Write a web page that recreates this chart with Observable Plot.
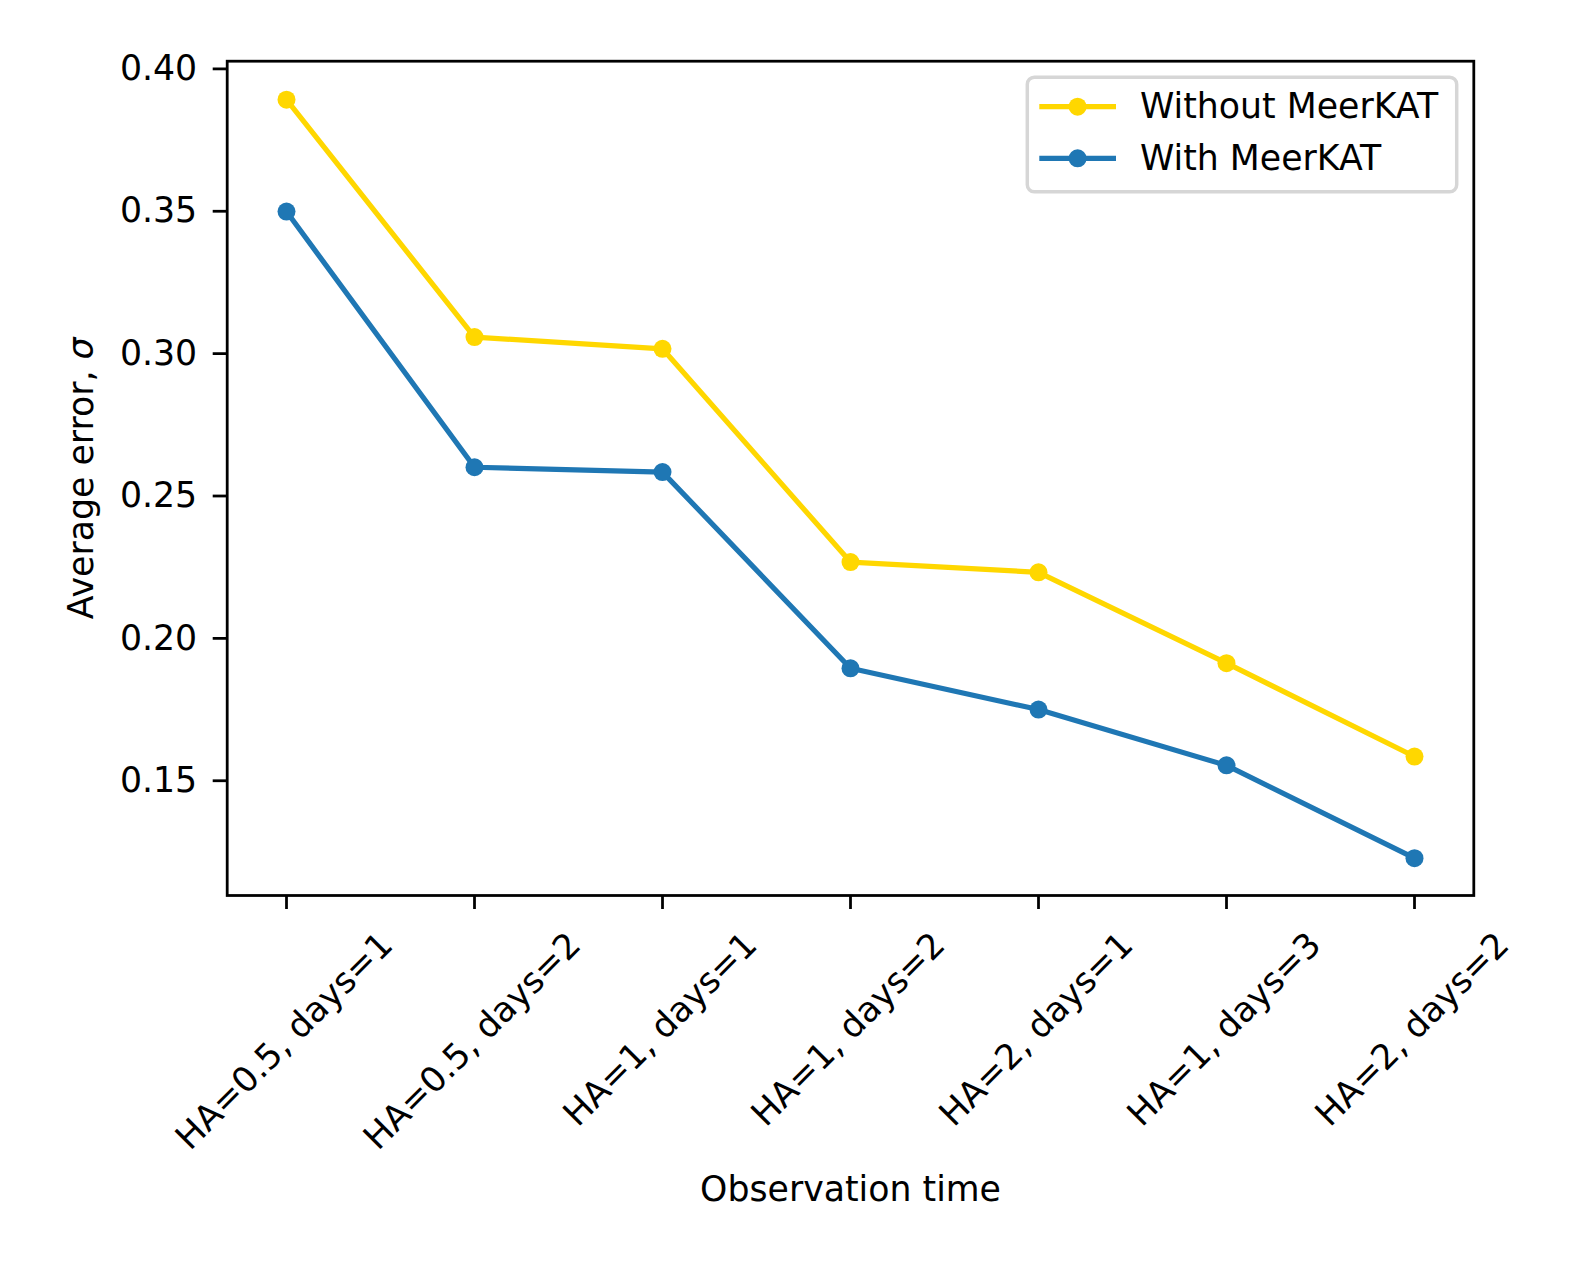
<!DOCTYPE html>
<html><head><meta charset="utf-8">
<script src="https://cdn.jsdelivr.net/npm/d3@7"></script>
<script src="https://cdn.jsdelivr.net/npm/@observablehq/plot@0.6"></script>
<style>html,body{margin:0;padding:0;background:#fff;} svg{display:block}</style>
</head><body><div id="chart"></div>
<script>
const categories = ["HA=0.5, days=1","HA=0.5, days=2","HA=1, days=1","HA=1, days=2","HA=2, days=1","HA=1, days=3","HA=2, days=2"];
const withoutMeerKAT = [0.3892, 0.3058, 0.3017, 0.2268, 0.2232, 0.1913, 0.1585];
const withMeerKAT    = [0.3499, 0.2601, 0.2584, 0.1895, 0.1750, 0.1554, 0.1228];
const seriesNames = ["Without MeerKAT", "With MeerKAT"];
const seriesColors = ["#FFD700", "#1f77b4"];
const yTicks = [0.15, 0.20, 0.25, 0.30, 0.35, 0.40];
const yDomain = [0.1097, 0.4027];
const xLabel = "Observation time";
const yLabel = "Average error, σ";

const FS = 34.72, FONT = "DejaVu Sans";
const W = 1578, H = 1262;
const mL = 226.7, mT = 60.7, mR = 104.7, mB = 367;
const seriesValues = [withoutMeerKAT, withMeerKAT];
const rows = seriesNames.flatMap((s, si) => categories.map((c, i) => ({series: s, cat: c, value: seriesValues[si][i]})));

const ctx = document.createElement("canvas").getContext("2d");
ctx.font = `${FS}px "${FONT}"`;
const tickLabelMarks = categories.map(c => {
  const w = ctx.measureText(c).width;
  return Plot.text([c], {x: d => d, text: d => d, frameAnchor: "bottom", dx: -2, dy: 43.5 + w / (2 * Math.SQRT2),
    rotate: -45, textAnchor: "middle", lineAnchor: "middle", fontSize: FS, fill: "black"});
});

const seriesMarks = seriesNames.flatMap((s, si) => {
  const data = rows.filter(r => r.series === s);
  return [
    Plot.line(data, {x: "cat", y: "value", stroke: seriesColors[si], strokeWidth: 5.2, strokeLinejoin: "round", strokeLinecap: "butt"}),
    Plot.dot(data, {x: "cat", y: "value", r: 9, fill: seriesColors[si], stroke: "none"})
  ];
});

const chart = Plot.plot({
  width: W, height: H,
  marginLeft: mL, marginTop: mT, marginRight: mR, marginBottom: mB,
  style: {fontFamily: FONT, fontSize: FS + "px", color: "black", background: "white"},
  x: {type: "point", domain: categories, padding: 0.3, align: 0.5},
  y: {domain: yDomain},
  marks: [
    ...seriesMarks,
    Plot.frame({stroke: "black", strokeWidth: 2.78}),
    Plot.axisX({tickSize: 14, strokeWidth: 2.78, tickFormat: () => "", label: null}),
    Plot.axisY({ticks: yTicks, tickSize: 14, tickPadding: 16, tickFormat: d3.format(".2f"), strokeWidth: 2.78, fontSize: FS, fontVariant: "normal", label: null}),
    ...tickLabelMarks,
    Plot.text([xLabel], {text: d => d, frameAnchor: "bottom", dy: 305, lineAnchor: "bottom", textAnchor: "middle", fontSize: FS, fill: "black"}),
    Plot.text([yLabel], {text: d => d, frameAnchor: "left", dx: -134, rotate: -90, lineAnchor: "bottom", textAnchor: "middle", fontSize: FS, fill: "black"})
  ]
});
document.getElementById("chart").appendChild(chart);

// italic sigma in y label
d3.select(chart).selectAll("text").filter(function(){ return this.textContent === yLabel; }).each(function(){
  const t = d3.select(this);
  t.text(null);
  t.append("tspan").text("Average error, ");
  t.append("tspan").attr("font-style", "italic").text("σ");
});

// legend
const svg = d3.select(chart);
const lg = svg.append("g").attr("font-family", FONT).attr("font-size", FS).attr("text-anchor", "start");
lg.append("rect").attr("x", 1027.3).attr("y", 77.3).attr("width", 429.4).attr("height", 114.4)
  .attr("rx", 7).attr("fill", "white").attr("fill-opacity", 0.8).attr("stroke", "#d6d6d6").attr("stroke-width", 3.47);
const rowY = [106.7, 158.3];
seriesNames.forEach((s, i) => {
  lg.append("line").attr("x1", 1039.3).attr("x2", 1116).attr("y1", rowY[i]).attr("y2", rowY[i])
    .attr("stroke", seriesColors[i]).attr("stroke-width", 5.2);
  lg.append("circle").attr("cx", 1077.6).attr("cy", rowY[i]).attr("r", 9).attr("fill", seriesColors[i]);
  lg.append("text").attr("x", 1140).attr("y", rowY[i] + 11.7).attr("text-anchor", "start").attr("fill", "black").text(s);
});
</script></body></html>
